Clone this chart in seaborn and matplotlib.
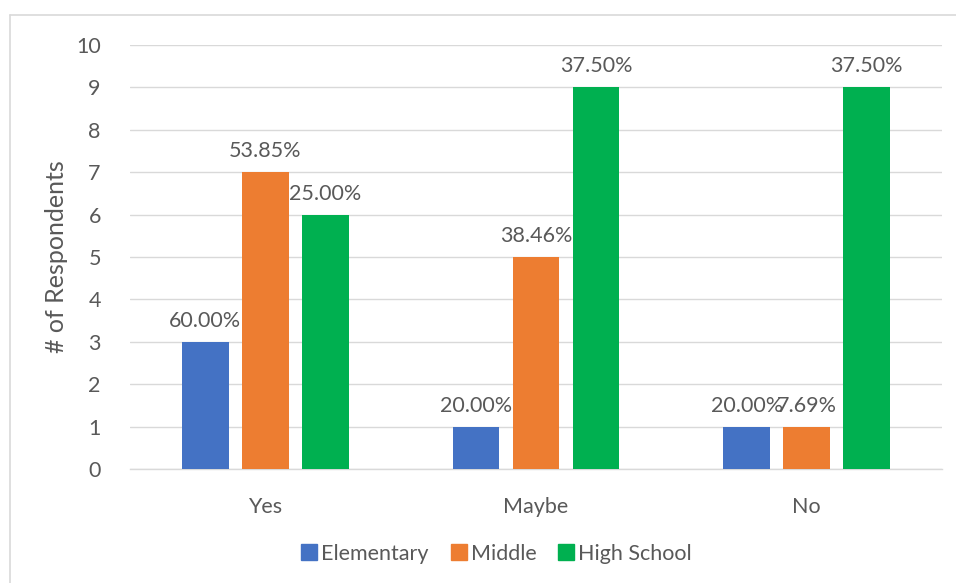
import matplotlib
matplotlib.use("Agg")
import matplotlib.pyplot as plt
import seaborn as sns
import pandas as pd
from matplotlib.lines import Line2D

categories = ["Yes", "Maybe", "No"]
groups = ["Elementary", "Middle", "High School"]
elementary = [3, 1, 1]
middle = [7, 5, 1]
high_school = [6, 9, 9]
elementary_pct = ["60.00%", "20.00%", "20.00%"]
middle_pct = ["53.85%", "38.46%", "7.69%"]
high_pct = ["25.00%", "37.50%", "37.50%"]
colors = ["#4472C4", "#ED7D31", "#00B050"]

rows = []
for g, vals, pcts in zip(groups, [elementary, middle, high_school], [elementary_pct, middle_pct, high_pct]):
    for c, v, p in zip(categories, vals, pcts):
        rows.append({"Answer": c, "Level": g, "Count": v, "Pct": p})
df = pd.DataFrame(rows)

sns.set_theme(style="white")
plt.rcParams["font.family"] = ["Lato", "DejaVu Sans"]
txt = "#595959"
fs = 15.5

fig = plt.figure(figsize=(9.56, 5.83), dpi=100)
ax = fig.add_axes([0.136, 0.1955, 0.8494, 0.7273])

sns.barplot(data=df, x="Answer", y="Count", hue="Level", order=categories,
            hue_order=groups, palette=colors, width=0.665, gap=0.22,
            saturation=1, ax=ax, legend=False, errorbar=None, zorder=3,
            linewidth=0)

ax.set_ylim(0, 10)
ax.set_yticks(range(0, 11))
ax.set_xlim(-0.5, 2.5)
ax.yaxis.grid(True, color="#d9d9d9", linewidth=1, zorder=0)
ax.set_axisbelow(True)
for s in ["top", "right", "left"]:
    ax.spines[s].set_visible(False)
ax.spines["bottom"].set_color("#d9d9d9")
ax.spines["bottom"].set_linewidth(1)
ax.tick_params(axis="both", length=0, labelsize=fs, labelcolor=txt)
ax.tick_params(axis="x", pad=20)
ax.tick_params(axis="y", pad=21)
ax.set_xlabel("")
ax.set_ylabel("# of Respondents", fontsize=18, color=txt, labelpad=6)

# Data labels
for cont, g in zip(ax.containers, groups):
    labs = df[df["Level"] == g].set_index("Answer").loc[categories, "Pct"].tolist()
    ax.bar_label(cont, labels=labs, padding=8, fontsize=fs, color=txt)

handles = [Line2D([0], [0], marker="s", linestyle="", markersize=11,
                  markerfacecolor=c, markeredgecolor=c) for c in colors]
fig.legend(handles, groups, loc="center", bbox_to_anchor=(0.518, 0.05),
           ncol=3, frameon=False, fontsize=fs, labelcolor=txt,
           handletextpad=0.05, columnspacing=0.9, handlelength=1.0)

# outer frame (top and left)
fig.add_artist(Line2D([10/956, 10/956], [0, 1 - 15/583], transform=fig.transFigure,
                      color="#d9d9d9", linewidth=1.2))
fig.add_artist(Line2D([10/956, 1], [1 - 15/583, 1 - 15/583], transform=fig.transFigure,
                      color="#d9d9d9", linewidth=1.2))

fig.savefig("out.png", dpi=100)
